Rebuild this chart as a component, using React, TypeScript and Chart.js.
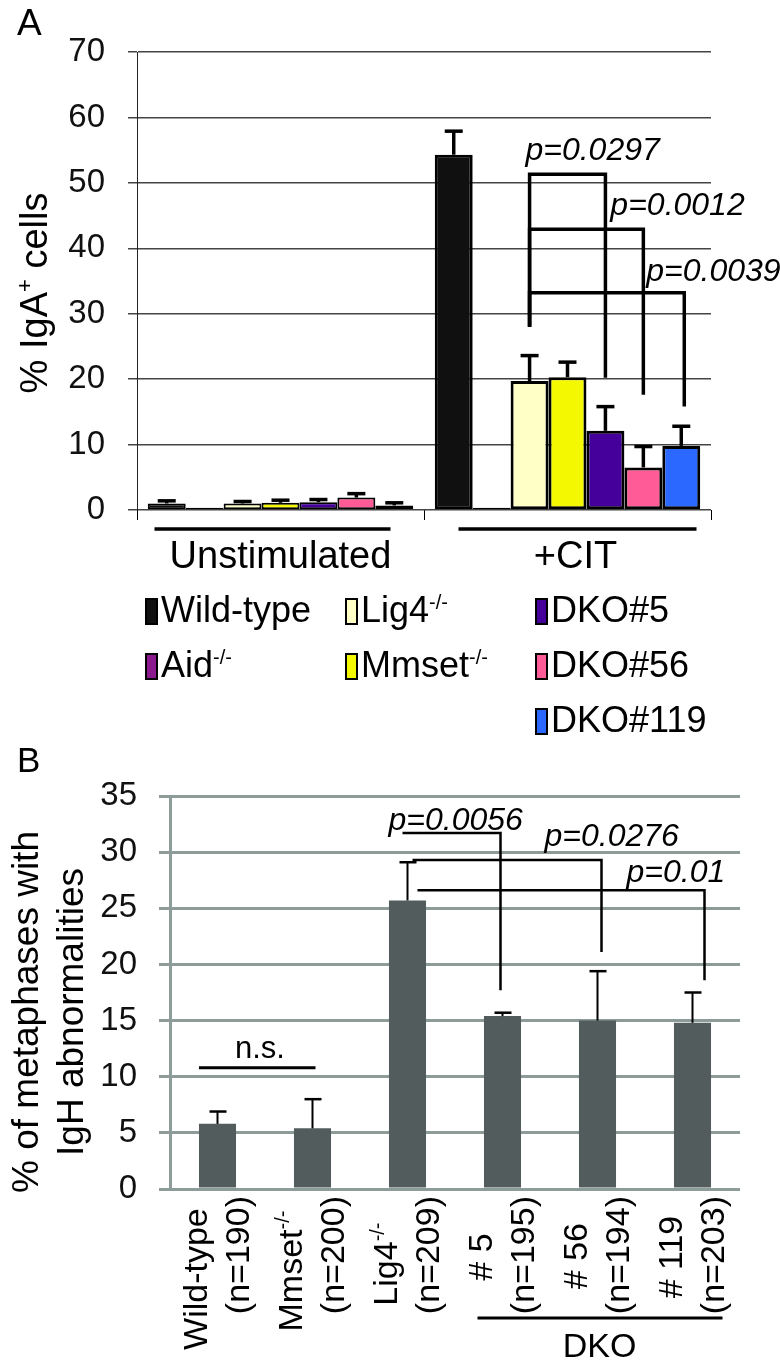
import React, { useEffect, useRef } from 'react';
import { Chart, registerables } from 'chart.js';

Chart.register(...registerables);

const FONT = '"Liberation Sans", Arial, Helvetica, sans-serif';

// ---------------- Panel A data ----------------
const groupsA = ['Unstimulated', '+CIT'];
const seriesA = ['Wild-type', 'Aid', 'Lig4', 'Mmset', 'DKO#5', 'DKO#56', 'DKO#119'];
const seriesSupA = ['', '-/-', '-/-', '-/-', '', '', ''];
const colorsA = ['#101010', '#8b1a8e', '#ffffc6', '#f4f800', '#45009b', '#ff5b97', '#2b68ff'];
const wildTypeA = [1.0, 54.3];
const aidA = [0.35, 0.35];
const lig4A = [1.0, 19.7];
const mmsetA = [1.1, 20.3];
const dko5A = [1.2, 12.1];
const dko56A = [1.9, 6.5];
const dko119A = [0.7, 9.8];
const wildTypeErrA = [0.4, 3.6];
const aidErrA = [0, 0];
const lig4ErrA = [0.3, 3.9];
const mmsetErrA = [0.4, 2.3];
const dko5ErrA = [0.4, 3.7];
const dko56ErrA = [0.6, 3.2];
const dko119ErrA = [0.4, 3.0];
const yMaxA = 70;
const yStepA = 10;
const pLabelsA = ['p=0.0297', 'p=0.0012', 'p=0.0039'];
const bracketTopA = [51.3, 42.9, 33.2];
const bracketLeftLegA = [28.0, 28.0, 28.0];
const bracketRightLegA = [20.2, 17.6, 15.8];
const bracketFromA = 2; // Lig4
const bracketToA = [4, 5, 6]; // DKO#5, DKO#56, DKO#119

// ---------------- Panel B data ----------------
const labelsB = ['Wild-type', 'Mmset', 'Lig4', '# 5', '# 56', '# 119'];
const labelSupB = ['', '-/-', '-/-', '', '', ''];
const countsB = ['(n=190)', '(n=200)', '(n=209)', '(n=195)', '(n=194)', '(n=203)'];
const valuesB = [5.8, 5.4, 25.7, 15.4, 15.0, 14.8];
const errorsB = [1.1, 2.6, 3.4, 0.3, 4.4, 2.7];
const yMaxB = 35;
const yStepB = 5;
const pLabelsB = ['p=0.0056', 'p=0.0276', 'p=0.01'];
const bracketTopB = [31.7, 29.3, 26.6];
const bracketRightLegB = [17.7, 21.1, 18.6];
const bracketFromB = 2; // Lig4
const bracketToB = [3, 4, 5];
const nsLevelB = 10.8;
const dkoMembersB = [3, 4, 5];

const valsA = [wildTypeA, aidA, lig4A, mmsetA, dko5A, dko56A, dko119A];
const errsA = [wildTypeErrA, aidErrA, lig4ErrA, mmsetErrA, dko5ErrA, dko56ErrA, dko119ErrA];

type Part = { t: string; size: number; rise?: number; style?: string };

const fontOf = (size: number, style = '') => `${style} ${size}px ${FONT}`.trim();

function measureParts(ctx: CanvasRenderingContext2D, parts: Part[]) {
  let w = 0;
  for (const p of parts) {
    ctx.font = fontOf(p.size, p.style);
    w += ctx.measureText(p.t).width;
  }
  return w;
}

function drawParts(ctx: CanvasRenderingContext2D, parts: Part[], x: number, y: number, align: 'left' | 'center' | 'right') {
  const w = measureParts(ctx, parts);
  let cx = align === 'center' ? x - w / 2 : align === 'right' ? x - w : x;
  ctx.textAlign = 'left';
  ctx.textBaseline = 'alphabetic';
  for (const p of parts) {
    ctx.font = fontOf(p.size, p.style);
    ctx.fillText(p.t, cx, y - (p.rise || 0));
    cx += ctx.measureText(p.t).width;
  }
}

function drawRotated(ctx: CanvasRenderingContext2D, parts: Part[], bx: number, cy: number, align: 'left' | 'center' | 'right') {
  ctx.save();
  ctx.translate(bx, cy);
  ctx.rotate(-Math.PI / 2);
  drawParts(ctx, parts, 0, 0, align);
  ctx.restore();
}

function line(ctx: CanvasRenderingContext2D, pts: number[][], w: number) {
  ctx.beginPath();
  ctx.lineWidth = w;
  ctx.strokeStyle = '#000';
  ctx.lineCap = 'butt';
  ctx.lineJoin = 'miter';
  pts.forEach((p, i) => (i === 0 ? ctx.moveTo(p[0], p[1]) : ctx.lineTo(p[0], p[1])));
  ctx.stroke();
}

const panelAPlugin = {
  id: 'panelA',
  afterDraw(chart: any) {
    const ctx: CanvasRenderingContext2D = chart.ctx;
    const ys = chart.scales.y;
    const xs = chart.scales.x;
    const ca = chart.chartArea;
    ctx.save();
    ctx.fillStyle = '#000';

    // error bars
    valsA.forEach((vals, di) => {
      const meta = chart.getDatasetMeta(di);
      vals.forEach((v, i) => {
        const e = errsA[di][i];
        if (!e) return;
        const bx = meta.data[i].x;
        const top = ys.getPixelForValue(v + e);
        const base = ys.getPixelForValue(v);
        line(ctx, [[bx, base], [bx, top]], 3.5);
        line(ctx, [[bx - 9, top], [bx + 9, top]], 3.5);
      });
    });

    // brackets
    const fromX = chart.getDatasetMeta(bracketFromA).data[1].x;
    const rightXs: number[] = [];
    const topYs: number[] = [];
    bracketToA.forEach((di, k) => {
      const xr = chart.getDatasetMeta(di).data[1].x + (k === 2 ? 3 : 0);
      const yt = ys.getPixelForValue(bracketTopA[k]);
      rightXs.push(xr);
      topYs.push(yt);
      line(ctx, [
        [fromX, ys.getPixelForValue(bracketLeftLegA[k])],
        [fromX, yt],
        [xr, yt],
        [xr, ys.getPixelForValue(bracketRightLegA[k])],
      ], 3.5);
    });
    const pOffA = [[-80, -14], [-33, -14], [-38, -12]];
    pLabelsA.forEach((t, k) => {
      drawParts(ctx, [{ t, size: 32, style: 'italic' }], rightXs[k] + pOffA[k][0], topYs[k] + pOffA[k][1], 'left');
    });

    // group underlines + labels
    const ulOff = [[-126, 110], [-109, 129]];
    groupsA.forEach((g, i) => {
      const cx = xs.getPixelForValue(i);
      line(ctx, [[cx + ulOff[i][0], ca.bottom + 19], [cx + ulOff[i][1], ca.bottom + 19]], 3.5);
      drawParts(ctx, [{ t: g, size: 38 }], cx + (i === 1 ? 8 : 0), ca.bottom + 58, 'center');
    });

    // legend
    const slots = [[0, 0], [0, 1], [1, 0], [1, 1], [2, 0], [2, 1], [2, 2]];
    const colX = [145, 345, 535];
    const rowBase = [622, 677, 732];
    seriesA.forEach((name, i) => {
      const [c, r] = slots[i];
      const bx = colX[c];
      const base = rowBase[r];
      ctx.fillStyle = '#000';
      ctx.fillRect(bx, base - 24, 13, 27);
      ctx.fillStyle = colorsA[i];
      ctx.fillRect(bx + 2, base - 22, 9, 23);
      ctx.fillStyle = '#000';
      const parts: Part[] = [{ t: name, size: 36 }];
      if (seriesSupA[i]) parts.push({ t: seriesSupA[i], size: 20, rise: 13 });
      drawParts(ctx, parts, bx + 16, base, 'left');
    });

    // y title
    drawRotated(ctx, [
      { t: '% IgA', size: 38 },
      { t: '+', size: 22, rise: 15 },
      { t: ' cells', size: 38 },
    ], 47, 293, 'center');

    // panel letter
    drawParts(ctx, [{ t: 'A', size: 37 }], 17, 35, 'left');
    ctx.restore();
  },
};

const panelBPlugin = {
  id: 'panelB',
  afterDraw(chart: any) {
    const ctx: CanvasRenderingContext2D = chart.ctx;
    const ys = chart.scales.y;
    const xs = chart.scales.x;
    const ca = chart.chartArea;
    const meta = chart.getDatasetMeta(0);
    ctx.save();
    ctx.fillStyle = '#000';

    // error bars
    valuesB.forEach((v, i) => {
      const bx = meta.data[i].x;
      const top = ys.getPixelForValue(v + errorsB[i]);
      const base = ys.getPixelForValue(v);
      line(ctx, [[bx, base], [bx, top]], 2);
      line(ctx, [[bx - 8, top], [bx + 9, top]], 2.5);
    });

    // brackets
    const fromX = meta.data[bracketFromB].x;
    const leftOff = [-5, 5, 10];
    const rightOff = [-2, 4, 12];
    const pOffB = [[-112, -3], [-57, -14], [-78, -8]];
    bracketToB.forEach((di, k) => {
      const xr = meta.data[di].x + rightOff[k];
      const yt = ys.getPixelForValue(bracketTopB[k]);
      line(ctx, [
        [fromX + leftOff[k], yt],
        [xr, yt],
        [xr, ys.getPixelForValue(bracketRightLegB[k])],
      ], 2.5);
      drawParts(ctx, [{ t: pLabelsB[k], size: 32, style: 'italic' }], xr + pOffB[k][0], yt + pOffB[k][1], 'left');
    });

    // n.s.
    const b0 = meta.data[0];
    const b1 = meta.data[1];
    const nsY = ys.getPixelForValue(nsLevelB);
    line(ctx, [[b0.x - b0.width / 2, nsY], [b1.x + 3, nsY]], 3);
    drawParts(ctx, [{ t: 'n.s.', size: 31 }], (b0.x + b1.x) / 2 - 5, nsY - 10, 'center');

    // x labels (rotated, two lines)
    const top = ca.bottom + 7;
    const shift = [24, 16, 9, 2, 1, 2];
    labelsB.forEach((lab, i) => {
      const cx = xs.getPixelForValue(i);
      const p2: Part[] = [{ t: countsB[i], size: 34 }];
      const w2 = measureParts(ctx, p2);
      drawRotated(ctx, p2, cx + 31, top, 'right');
      const p1: Part[] = [{ t: lab, size: 34 }];
      if (labelSupB[i]) p1.push({ t: labelSupB[i], size: 20, rise: 13 });
      drawRotated(ctx, p1, cx - 11, top + w2 / 2 + shift[i], 'center');
    });

    // DKO group
    const first = meta.data[dkoMembersB[0]];
    const last = meta.data[dkoMembersB[dkoMembersB.length - 1]];
    line(ctx, [[first.x - 25, ca.bottom + 129], [last.x + 30, ca.bottom + 129]], 3);
    drawParts(ctx, [{ t: 'DKO', size: 34 }], xs.getPixelForValue(dkoMembersB[1]) + 2, ca.bottom + 168, 'center');

    // y title
    drawRotated(ctx, [{ t: '% of metaphases with', size: 37 }], 38, 272, 'center');
    drawRotated(ctx, [{ t: 'IgH abnormalities', size: 37 }], 83, 272, 'center');

    // panel letter
    drawParts(ctx, [{ t: 'B', size: 35 }], 17, 32, 'left');
    ctx.restore();
  },
};

function PanelA() {
  const ref = useRef<HTMLCanvasElement>(null);
  useEffect(() => {
    const chart = new Chart(ref.current as HTMLCanvasElement, {
      type: 'bar',
      data: {
        labels: groupsA,
        datasets: seriesA.map((name, i) => ({
          label: name,
          data: valsA[i],
          backgroundColor: colorsA[i],
          borderColor: '#000',
          borderWidth: (c: any) => (c.dataIndex === 0 ? 2 : 3),
          borderSkipped: false,
          categoryPercentage: 0.925,
          barPercentage: 1,
        })),
      },
      options: {
        animation: false,
        responsive: false,
        devicePixelRatio: 1,
        layout: { padding: { left: 0, top: 52, right: 69, bottom: 210 } },
        plugins: { legend: { display: false }, tooltip: { enabled: false } },
        scales: {
          x: {
            grid: { display: true, drawOnChartArea: false, drawTicks: true, tickLength: 10, color: '#000', lineWidth: 1, offset: true },
            border: { display: false },
            ticks: { display: false },
            afterFit: (s: any) => { s.height = 20; },
          },
          y: {
            min: 0,
            max: yMaxA,
            ticks: { stepSize: yStepA, color: '#111', padding: 23, font: { family: FONT, size: 33 } },
            grid: { color: '#454545', lineWidth: 1.5, tickLength: 9, drawTicks: true },
            border: { display: true, color: '#222', width: 1 },
            afterFit: (s: any) => { s.width = 137; },
          },
        },
      },
      plugins: [panelAPlugin],
    } as any);
    return () => chart.destroy();
  }, []);
  return <canvas ref={ref} width={780} height={740} style={{ position: 'absolute', left: 0, top: 0, width: 780, height: 740 }} />;
}

function PanelB() {
  const ref = useRef<HTMLCanvasElement>(null);
  useEffect(() => {
    const chart = new Chart(ref.current as HTMLCanvasElement, {
      type: 'bar',
      data: {
        labels: labelsB,
        datasets: [{
          label: 'IgH abnormalities',
          data: valuesB,
          backgroundColor: '#535c5c',
          borderWidth: 0,
          categoryPercentage: 1,
          barPercentage: 0.39,
        }],
      },
      options: {
        animation: false,
        responsive: false,
        devicePixelRatio: 1,
        layout: { padding: { left: 0, top: 56, right: 40, bottom: 169 } },
        plugins: { legend: { display: false }, tooltip: { enabled: false } },
        scales: {
          x: {
            grid: { display: false },
            border: { display: false },
            ticks: { display: false },
            afterFit: (s: any) => { s.height = 10; },
          },
          y: {
            min: 0,
            max: yMaxB,
            ticks: { stepSize: yStepB, color: '#111', padding: 22, font: { family: FONT, size: 33 } },
            grid: { color: '#8d9b99', lineWidth: 3, tickLength: 11, drawTicks: true },
            border: { display: true, color: '#8d9b99', width: 3 },
            afterFit: (s: any) => { s.width = 170; },
          },
        },
      },
      plugins: [panelBPlugin],
    } as any);
    return () => chart.destroy();
  }, []);
  return <canvas ref={ref} width={780} height={628} style={{ position: 'absolute', left: 0, top: 740, width: 780, height: 628 }} />;
}

export default function App() {
  return (
    <div style={{ position: 'absolute', left: 0, top: 0, width: 780, height: 1368, background: '#fff', overflow: 'hidden' }}>
      <PanelA />
      <PanelB />
    </div>
  );
}
